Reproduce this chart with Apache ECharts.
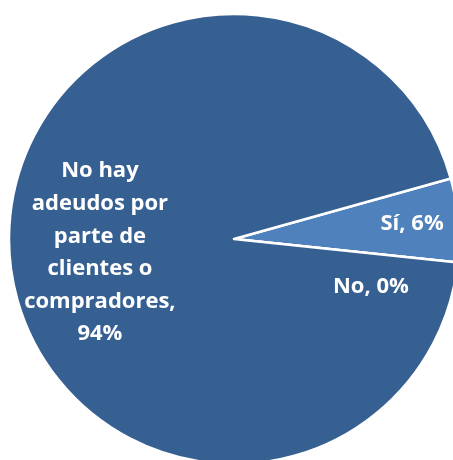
<!DOCTYPE html>
<html>
<head>
<meta charset="utf-8">
<script src="https://cdn.jsdelivr.net/npm/echarts@6/dist/echarts.min.js"></script>
<style>
  html, body { margin: 0; padding: 0; background: #ffffff; }
  #chart { width: 453px; height: 460px; }
</style>
</head>
<body>
<div id="chart"></div>
<script>
// Respuestas: ¿hay adeudos por parte de clientes o compradores?
const categories = ['Sí', 'No', 'No hay\nadeudos por\nparte de\nclientes o\ncompradores'];
const values = [6, 0, 94];
const colors = ['#4F81BD', '#376092', '#376092'];
// label nudges from the default inside position (px)
const labelShift = [[63, -6], [22, 36], [-19, 4]];

const chart = echarts.init(document.getElementById('chart'), null, { renderer: 'canvas' });

chart.setOption({
  animation: false,
  series: [{
    type: 'pie',
    center: [234, 239],
    radius: 225,
    startAngle: 15.6,
    clockwise: true,
    avoidLabelOverlap: false,
    minShowLabelAngle: 0,
    itemStyle: { borderColor: '#ffffff', borderWidth: 2.5 },
    label: {
      show: true,
      position: 'inside',
      color: '#ffffff',
      fontFamily: 'Open Sans',
      fontWeight: 'bold',
      fontSize: 22,
      lineHeight: 32.6,
      align: 'center',
      formatter: function (p) {
        const sep = p.dataIndex === 2 ? ',\n' : ', ';
        return p.name + sep + p.value + '%';
      }
    },
    labelLine: { show: false },
    emphasis: { disabled: true },
    labelLayout: function (p) {
      const s = labelShift[p.dataIndex];
      return { dx: s[0], dy: s[1] };
    },
    data: categories.map(function (name, i) {
      return { name: name, value: values[i], itemStyle: { color: colors[i] } };
    })
  }]
});
</script>
</body>
</html>
